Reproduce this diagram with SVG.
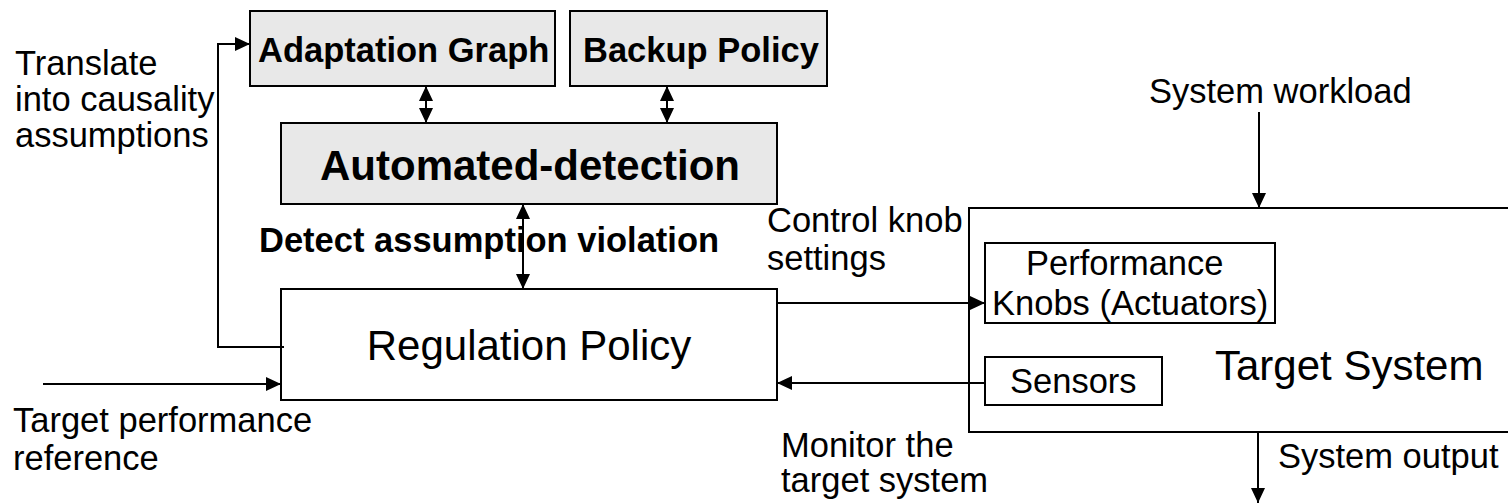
<svg xmlns="http://www.w3.org/2000/svg" width="1508" height="504" viewBox="0 0 1508 504">
  <style>
    .box { fill: #ffffff; stroke: #000000; stroke-width: 2; }
    .shaded { fill: #e8e8e8; }
    .edge { fill: none; stroke: #000000; stroke-width: 2; }
    .t { font-family: "Liberation Sans", Arial, sans-serif; font-size: 34.5px; fill: #000000; }
    .b { font-weight: bold; }
    .big { font-size: 42px; }
  </style>
  <defs>
    <marker id="arrow" markerUnits="userSpaceOnUse" markerWidth="15" markerHeight="14" refX="15" refY="7" orient="auto-start-reverse">
      <path d="M0,0 L15,7 L0,14 z" fill="#000000"/>
    </marker>
  </defs>

  <!-- free-standing labels -->
  <g id="labels">
    <text class="t" x="15" y="75">Translate</text>
    <text class="t" x="15" y="111">into causality</text>
    <text class="t" x="15" y="147">assumptions</text>
    <text class="t b" x="259" y="252">Detect assumption violation</text>
    <text class="t" x="767" y="232">Control knob</text>
    <text class="t" x="767" y="270">settings</text>
    <text class="t" x="1149" y="103">System workload</text>
    <text class="t" x="13" y="432">Target performance</text>
    <text class="t" x="13" y="470">reference</text>
    <text class="t" x="781" y="457">Monitor the</text>
    <text class="t" x="781" y="492">target system</text>
    <text class="t" x="1278" y="468">System output</text>
  </g>

  <g id="adaptation-graph">
    <rect class="box shaded" x="250" y="11" width="305" height="75"/>
    <text class="t b" x="258" y="62">Adaptation Graph</text>
  </g>

  <g id="backup-policy">
    <rect class="box shaded" x="570" y="11" width="257" height="75"/>
    <text class="t b" x="583" y="62">Backup Policy</text>
  </g>

  <g id="automated-detection">
    <rect class="box shaded" x="281" y="123" width="496" height="81"/>
    <text class="t b big" x="530" y="180" text-anchor="middle">Automated-detection</text>
  </g>

  <g id="regulation-policy">
    <rect class="box" x="281" y="289" width="496" height="111"/>
    <text class="t big" x="529" y="360" text-anchor="middle">Regulation Policy</text>
  </g>

  <g id="target-system">
    <rect class="box" x="969" y="208" width="560" height="224"/>
    <text class="t big" x="1215" y="380">Target System</text>
  </g>

  <g id="performance-knobs">
    <rect class="box" x="985" y="243" width="290" height="80"/>
    <text class="t" x="1026" y="275">Performance</text>
    <text class="t" x="992" y="315">Knobs (Actuators)</text>
  </g>

  <g id="sensors">
    <rect class="box" x="985" y="357" width="177" height="48"/>
    <text class="t" x="1010" y="393">Sensors</text>
  </g>

  <g id="connectors">
    <!-- two-way links into the detector -->
    <line class="edge" x1="426" y1="86" x2="426" y2="123" marker-start="url(#arrow)" marker-end="url(#arrow)"/>
    <line class="edge" x1="667" y1="86" x2="667" y2="123" marker-start="url(#arrow)" marker-end="url(#arrow)"/>
    <line class="edge" x1="523" y1="204" x2="523" y2="289" marker-start="url(#arrow)" marker-end="url(#arrow)"/>
    <!-- policy translated into the adaptation graph -->
    <polyline class="edge" points="284,347 218,347 218,44 250,44" marker-end="url(#arrow)"/>
    <!-- reference input -->
    <line class="edge" x1="43" y1="384" x2="281" y2="384" marker-end="url(#arrow)"/>
    <!-- knob settings out, sensor readings back -->
    <line class="edge" x1="777" y1="303" x2="985" y2="303" marker-end="url(#arrow)"/>
    <line class="edge" x1="985" y1="383" x2="777" y2="383" marker-end="url(#arrow)"/>
    <!-- workload in, output out -->
    <line class="edge" x1="1259" y1="112" x2="1259" y2="208" marker-end="url(#arrow)"/>
    <line class="edge" x1="1258" y1="432" x2="1258" y2="503" marker-end="url(#arrow)"/>
  </g>
</svg>
